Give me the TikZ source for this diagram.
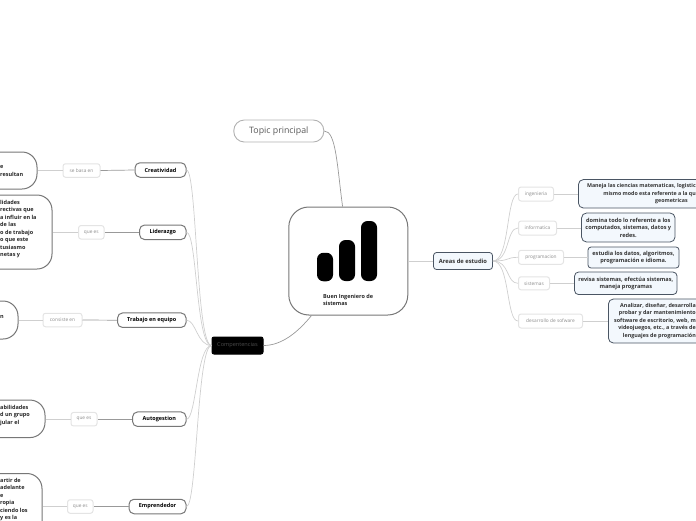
\documentclass[tikz,border=0pt]{standalone}
\usepackage{fontspec}
\setmainfont{Open Sans}
\usepackage{xcolor}
\usetikzlibrary{positioning, calc}
\definecolor{edgegray}{HTML}{777777}
\definecolor{softgray}{HTML}{E4E4E4}
\definecolor{linegray}{HTML}{CFCFCF}
\definecolor{labelgray}{HTML}{8C8C8C}
\definecolor{areablue}{HTML}{F3F8FD}
\definecolor{areaedge}{HTML}{4A5563}
\begin{document}
\begin{tikzpicture}[
    x=1pt, y=-1pt,
    centrebox/.style={rectangle, rounded corners=20pt, draw=edgegray, line width=1pt, fill=white, minimum width=119pt, minimum height=108pt, inner sep=0pt},
    bar/.style={rectangle, rounded corners=6.5pt, fill=black, minimum width=16pt, inner sep=0pt},
    topicbox/.style={rectangle, rounded corners=10.5pt, draw=black!30, line width=0.9pt, fill=white, minimum width=90pt, minimum height=22pt, inner sep=0pt, font=\fontsize{8.8}{10}\selectfont, text=black!65},
    skill/.style={rectangle, rounded corners=5pt, draw=edgegray, line width=1pt, fill=white, minimum height=14.5pt, inner sep=0pt, font=\fontsize{5.5}{7}\selectfont\bfseries},
    connect/.style={rectangle, rounded corners=2.5pt, draw=softgray, line width=1pt, fill=white, minimum height=13.5pt, inner sep=0pt, font=\fontsize{4.8}{6}\selectfont, text=labelgray},
    detail/.style={rectangle, rounded corners=15pt, draw=edgegray, line width=1pt, fill=white, inner sep=0pt},
    cuttext/.style={inner sep=0pt, align=left, font=\fontsize{5.5}{7.5}\selectfont\bfseries, text=black!85},
    area/.style={rectangle, rounded corners=3pt, draw=areaedge, line width=0.8pt, fill=areablue, inner sep=0pt, align=center, font=\fontsize{5.6}{7.5}\selectfont\bfseries, text=black!80},
    branch/.style={draw=linegray, line width=0.7pt},
    stem/.style={draw=black!40, line width=0.7pt},
    pale/.style={draw=linegray, line width=0.8pt}
]
\useasboundingbox (0,0) rectangle (696,520);
\clip (0,0) rectangle (696,520);

\node[centrebox] (centre) at (348.3,261) {};
\node[bar, minimum height=28.5pt] (barone) at (325,267) {};
\node[bar, minimum height=41pt] (bartwo) at (347,260.5) {};
\node[bar, minimum height=60pt] (barthree) at (369,251) {};
\node[cuttext, anchor=west] (centretext) at (323,300) {Buen Ingeniero de\\sistemas};

\node[topicbox] (topic) at (278.8,131) {Topic principal};
\draw[stem] (topic.east) .. controls (336,131) and (337,165) .. (centre.96);

\node[skill, minimum width=51pt, minimum height=17pt, rounded corners=2pt, fill=black, draw=black, text=black!70, font=\fontsize{5.6}{7}\selectfont] (compet) at (237.5,345.5) {Compentencias};
\draw[stem] (centre.236) .. controls (298,332) and (282,345.5) .. (compet.east);

\node[area, minimum width=59pt, minimum height=17pt, font=\fontsize{5.8}{7.5}\selectfont\bfseries] (areas) at (463,261) {Areas de estudio};
\draw[pale] (centre.east) -- (areas.west);

\node[skill, minimum width=51pt] (creat) at (160.5,170) {Creatividad};
\node[skill, minimum width=46.5pt] (lider) at (162.8,232.3) {Liderazgo};
\node[skill, minimum width=68.5pt] (trabajo) at (151.8,320.2) {Trabajo en equipo};
\node[skill, minimum width=53.5pt] (autog) at (159.3,419.2) {Autogestion};
\node[skill, minimum width=57pt] (empren) at (157.5,506.5) {Emprendedor};

\node[connect, minimum width=37pt] (basa) at (81.5,170.5) {se basa en};
\node[connect, minimum width=25.5pt] (quelider) at (91.3,232.3) {que es};
\node[connect, minimum width=39pt] (consiste) at (62.5,320) {consiste en};
\node[connect, minimum width=26pt] (queauto) at (84,419.2) {que es};
\node[connect, minimum width=25.5pt] (queempren) at (80.3,506.5) {que es};

\node[detail, minimum width=120pt, minimum height=37pt] (detcreat) at (-23,170.5) {};
\node[detail, minimum width=120pt, minimum height=74pt] (detlider) at (-8,232) {};
\node[detail, minimum width=120pt, minimum height=38pt] (dettrabajo) at (-42,320) {};
\node[detail, minimum width=120pt, minimum height=37.5pt] (detauto) at (-15,418.8) {};
\node[detail, minimum width=120pt, minimum height=100pt, anchor=north] (detempren) at (-18,473) {};

\node[cuttext, anchor=west] (txtcreat) at (0,171) {e\\resultan};
\node[cuttext, anchor=west] (txtlider) at (0,229) {lidades\\rectivas que\\a influir en la\\de las\\o de trabajo\\o que este\\tusiasmo\\netas y};
\node[cuttext, anchor=west] (txttrabajo) at (0,316.5) {n};
\node[cuttext, anchor=west] (txtauto) at (0,415.5) {abilidades\\d un grupo\\jular el};
\node[cuttext, anchor=north west] (txtempren) at (0,478) {artir de\\adelante\\e\\ropia\\ciendo los\\y es la};

\foreach \skl/\lab/\det in {creat/basa/detcreat, lider/quelider/detlider, trabajo/consiste/dettrabajo, autog/queauto/detauto, empren/queempren/detempren} {
    \draw[stem] (\skl.west) -- (\lab.east);
    \draw[pale] (\lab.west) -- (\lab.west -| \det.east);
}

\draw[branch] (compet.west) .. controls (196,345.5) and (197,170) .. (creat.east);
\draw[branch] (compet.west) .. controls (196,345.5) and (197,232.3) .. (lider.east);
\draw[branch] (compet.west) .. controls (197,345.5) and (196,320.2) .. (trabajo.east);
\draw[branch] (compet.west) .. controls (197,345.5) and (196,419.2) .. (autog.east);
\draw[branch] (compet.west) .. controls (197,345.5) and (197,506.5) .. (empren.east);

\node[connect, minimum width=35pt, minimum height=14pt, anchor=west] (ingen) at (518,194) {ingenieria};
\node[connect, minimum width=38pt, minimum height=14pt, anchor=west] (inform) at (518,228) {informatica};
\node[connect, minimum width=45pt, minimum height=14pt, anchor=west] (progra) at (518,257.3) {programacion};
\node[connect, minimum width=31pt, minimum height=13pt, anchor=west] (sistem) at (518,283.3) {sistemas};
\node[connect, minimum width=64pt, minimum height=14pt, anchor=west] (desarr) at (518,321) {desarrollo de sofware};

\node[area, minimum width=140pt, minimum height=28.5pt, anchor=west, rounded corners=5pt] (boxingen) at (578,193.8) {};
\node[area, minimum width=93.5pt, minimum height=29pt, rounded corners=5pt] (boxinform) at (628.3,227.5) {domina todo lo referente a los\\computados, sistemas, datos y\\redes.};
\node[area, minimum width=91pt, minimum height=21pt] (boxprogra) at (633.5,257.5) {estudia los datos, algoritmos,\\programación e idioma.};
\node[area, minimum width=102.5pt, minimum height=22.5pt, rounded corners=4pt] (boxsistem) at (625.8,283.3) {revisa sistemas, efectúa sistemas,\\maneja programas};
\node[area, minimum width=120pt, minimum height=44pt, anchor=west, rounded corners=5pt] (boxdesarr) at (608,321) {};
\node[cuttext, anchor=east, align=right, font=\fontsize{5.3}{7.5}\selectfont\bfseries, text=black!80] (txtingen) at (696,193.8) {Maneja las ciencias matematicas, logistic\\mismo modo esta referente a la qu\\geometricas\hspace*{8pt}};
\node[cuttext, anchor=east, align=right, font=\fontsize{5.4}{7.5}\selectfont\bfseries, text=black!80] (txtdesarr) at (696,321) {Analizar, diseñar, desarrolla\\probar y dar mantenimiento\\software de escritorio, web, m\\videojuegos, etc., a través de\\lenguajes de programación};

\foreach \lab/\det in {ingen/boxingen, inform/boxinform, progra/boxprogra, sistem/boxsistem, desarr/boxdesarr} {
    \draw[pale] (\lab.east) -- (\lab.east -| \det.west);
    \draw[branch] (areas.east) .. controls (510,261) and (506,261 |- \lab.west) .. (\lab.west);
}
\end{tikzpicture}
\end{document}
